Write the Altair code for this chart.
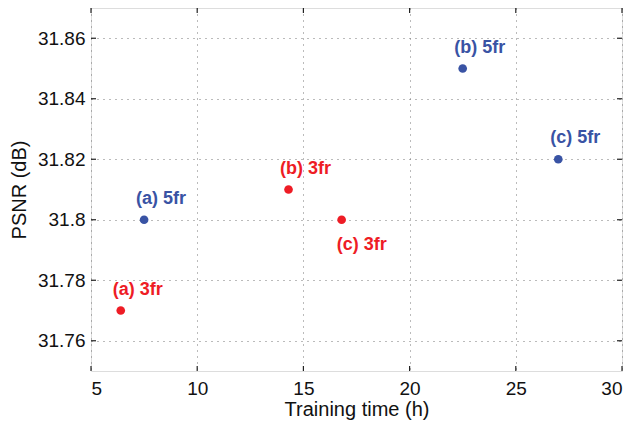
import altair as alt
import pandas as pd

# data
labels = ["(a) 3fr", "(b) 3fr", "(c) 3fr", "(a) 5fr", "(b) 5fr", "(c) 5fr"]
train_time = [6.4, 14.3, 16.8, 7.5, 22.5, 27.0]
psnr = [31.77, 31.81, 31.80, 31.80, 31.85, 31.82]
group = ["3fr", "3fr", "3fr", "5fr", "5fr", "5fr"]
label_side = ["above", "above", "below", "above", "above", "above"]

x_ticks = [5, 10, 15, 20, 25, 30]
y_ticks = [31.76, 31.78, 31.80, 31.82, 31.84, 31.86]

df = pd.DataFrame({"label": labels, "t": train_time, "psnr": psnr,
                   "group": group, "side": label_side})
xt = pd.DataFrame({"v": x_ticks})
yt = pd.DataFrame({"v": y_ticks})

W, H = 531, 363
FONT = "Liberation Sans"

xs = alt.Scale(domain=[5, 30], nice=False, zero=False)
ys = alt.Scale(domain=[31.75, 31.87], nice=False, zero=False)
color = alt.Color("group:N", scale=alt.Scale(domain=["3fr", "5fr"], range=["#ee1c25", "#3953a4"]), legend=None)

base = alt.Chart(df)

points = base.mark_point(filled=True, opacity=1, size=75).encode(
    x=alt.X("t:Q", scale=xs, title="Training time (h)",
            axis=alt.Axis(values=x_ticks, grid=True, gridDash=[1, 5], gridColor="#777",
                          gridWidth=1, domain=False, ticks=False, labelPadding=8,
                          labelFontSize=19, titleFontSize=20, labelFont=FONT, titleFont=FONT,
                          labelColor="#111", titleColor="#111", titleFontWeight="normal",
                          titlePadding=1)),
    y=alt.Y("psnr:Q", scale=ys, title="PSNR (dB)",
            axis=alt.Axis(values=y_ticks, format=".2~f", grid=True, gridDash=[1, 5],
                          gridColor="#777", gridWidth=1, domain=False, ticks=False,
                          labelPadding=6, labelFontSize=19, titleFontSize=20, labelFont=FONT,
                          titleFont=FONT, labelColor="#111", titleColor="#111",
                          titleFontWeight="normal", titlePadding=8)),
    color=color,
)

above = base.transform_filter(alt.datum.side == "above").mark_text(
    fontWeight="bold", fontSize=18, font=FONT, dx=17, dy=-21, align="center", baseline="middle"
).encode(x=alt.X("t:Q", scale=xs), y=alt.Y("psnr:Q", scale=ys), text="label:N", color=color)

below = base.transform_filter(alt.datum.side == "below").mark_text(
    fontWeight="bold", fontSize=18, font=FONT, dx=20, dy=25, align="center", baseline="middle"
).encode(x=alt.X("t:Q", scale=xs), y=alt.Y("psnr:Q", scale=ys), text="label:N", color=color)

tick_style = dict(color="#222", strokeWidth=1.2)
yl = alt.Chart(yt).mark_rule(**tick_style).encode(y=alt.Y("v:Q", scale=ys), x=alt.value(0), x2=alt.value(5))
yr = alt.Chart(yt).mark_rule(**tick_style).encode(y=alt.Y("v:Q", scale=ys), x=alt.value(W - 5), x2=alt.value(W))
xb = alt.Chart(xt).mark_rule(**tick_style).encode(x=alt.X("v:Q", scale=xs), y=alt.value(H - 5), y2=alt.value(H))
xtp = alt.Chart(xt).mark_rule(**tick_style).encode(x=alt.X("v:Q", scale=xs), y=alt.value(0), y2=alt.value(5))

chart = alt.layer(points, yl, yr, xb, xtp, above, below).properties(
    width=W, height=H,
    autosize=alt.AutoSizeParams(type="none"),
    padding={"left": 83, "top": 0, "right": 5, "bottom": 50},
).configure_view(stroke="#111", strokeWidth=1.5).configure(background="white")

chart.save("out.html", embed_options={"renderer": "svg", "actions": False})
